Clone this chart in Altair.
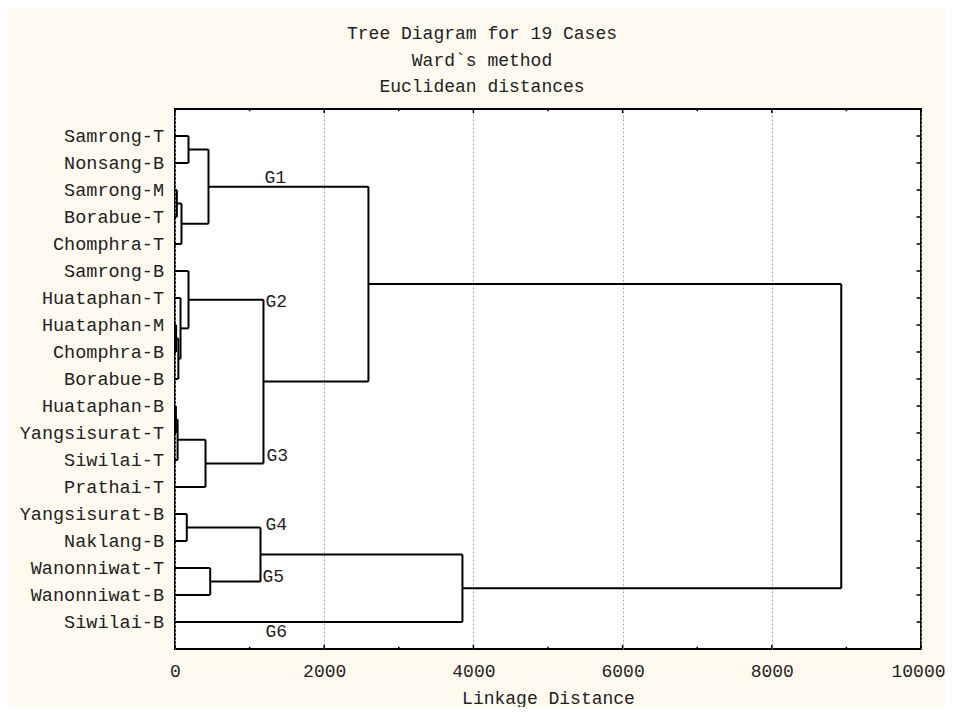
import altair as alt
import pandas as pd

# ---------------- data ----------------
leaves = ["Samrong-T", "Nonsang-B", "Samrong-M", "Borabue-T", "Chomphra-T",
          "Samrong-B", "Huataphan-T", "Huataphan-M", "Chomphra-B", "Borabue-B",
          "Huataphan-B", "Yangsisurat-T", "Siwilai-T", "Prathai-T",
          "Yangsisurat-B", "Naklang-B", "Wanonniwat-T", "Wanonniwat-B", "Siwilai-B"]

# agglomeration steps (children may be leaves or earlier merges)
merge_ids = ["a", "b", "c", "d", "e", "f", "g", "h", "i", "j", "k", "l", "m",
             "n", "o", "p", "q", "r"]
merge_left = ["Samrong-T", "Samrong-M", "b", "a", "Huataphan-M", "e", "Huataphan-T",
              "Samrong-B", "Huataphan-B", "i", "j", "h", "d",
              "Yangsisurat-B", "Wanonniwat-T", "n", "p", "m"]
merge_right = ["Nonsang-B", "Borabue-T", "Chomphra-T", "c", "Chomphra-B", "Borabue-B", "f",
               "g", "Yangsisurat-T", "Siwilai-T", "Prathai-T", "k", "l",
               "Naklang-B", "Wanonniwat-B", "o", "Siwilai-B", "q"]
merge_height = [181, 25, 87, 449, 15, 45, 74,
                181, 12, 35, 409, 1186, 2593,
                158, 472, 1146, 3853, 8931]

group_labels = ["G1", "G2", "G3", "G4", "G5", "G6"]
group_dist = [1199, 1213, 1226, 1213, 1173, 1213]
group_pos = [2.55, 7.14, 12.86, 15.4, 17.34, 19.37]

title_lines = ["Tree Diagram for 19 Cases", "Ward`s method", "Euclidean distances"]
x_ticks = [0, 2000, 4000, 6000, 8000, 10000]
x_minor = list(range(0, 10001, 1000))

FONT = "Liberation Mono"
TXT = "#222222"

# ---------------- build dendrogram segments ----------------
node = {name: (i + 1, 0.0) for i, name in enumerate(leaves)}
segs = []
for mid, l, r, h in zip(merge_ids, merge_left, merge_right, merge_height):
    yl, hl = node[l]
    yr, hr = node[r]
    segs.append(dict(x=h, x2=h, y=yl, y2=yr))
    segs.append(dict(x=hl, x2=h, y=yl, y2=yl))
    segs.append(dict(x=hr, x2=h, y=yr, y2=yr))
    node[mid] = ((yl + yr) / 2, h)
seg_df = pd.DataFrame(segs)

# inward tick marks (bottom, top, right)
tick_rows = []
for v in x_minor:
    ln = 0.15 if v % 2000 == 0 else 0.08
    tick_rows.append(dict(x=v, x2=v, y=20, y2=20 - ln))
    tick_rows.append(dict(x=v, x2=v, y=0, y2=ln))
for i in range(1, len(leaves) + 1):
    tick_rows.append(dict(x=10000, x2=10000 - 60, y=i, y2=i))
tick_df = pd.DataFrame(tick_rows)

lab_df = pd.DataFrame(dict(label=group_labels, x=group_dist, y=group_pos))
leaf_df = pd.DataFrame(dict(name=leaves, pos=list(range(1, len(leaves) + 1)),
                            x=[0] * len(leaves)))

xscale = alt.Scale(domain=[0, 10000], nice=False, zero=False)
yscale = alt.Scale(domain=[0, 20], nice=False, zero=False, reverse=True)

xaxis = alt.Axis(values=x_ticks, format="d", title="Linkage Distance", grid=True,
                 gridDash=[2, 2], gridColor="#a8a8a8", gridWidth=1,
                 tickSize=0, domain=False, labelFlush=False,
                 labelOffset={"condition": {"test": "datum.value == 10000", "value": -3},
                              "value": 0},
                 labelFont=FONT, labelFontSize=18, labelColor=TXT, labelPadding=13,
                 titleFont=FONT, titleFontSize=18, titleFontWeight="normal",
                 titleColor=TXT, titlePadding=9)
yaxis = alt.Axis(labels=False, ticks=False, grid=False, domain=False, title=None)

tree = alt.Chart(seg_df).mark_rule(color="black", strokeWidth=2).encode(
    x=alt.X("x:Q", scale=xscale, axis=xaxis),
    x2="x2:Q",
    y=alt.Y("y:Q", scale=yscale, axis=yaxis),
    y2="y2:Q",
)

ticks = alt.Chart(tick_df).mark_rule(color="black", strokeWidth=1.5).encode(
    x="x:Q", x2="x2:Q", y="y:Q", y2="y2:Q"
)

leaf_text = alt.Chart(leaf_df).mark_text(
    align="right", baseline="middle", dx=-11, font=FONT, fontSize=18.5, color=TXT
).encode(x="x:Q", y="pos:Q", text="name:N")

glabels = alt.Chart(lab_df).mark_text(
    align="left", baseline="middle", font=FONT, fontSize=18, color=TXT
).encode(x="x:Q", y="y:Q", text="label:N")

chart = alt.layer(tree, ticks, leaf_text, glabels).properties(
    width=746,
    height=540,
    title=alt.TitleParams(title_lines, font=FONT, fontSize=18, fontWeight="normal",
                          color=TXT, anchor="middle", dx=-66, lineHeight=26.5,
                          offset=12),
    padding={"left": 167, "top": 101, "right": 24, "bottom": 58},
    autosize=alt.AutoSizeParams(type="none"),
    background="#FFFAF0",
).configure_view(stroke="black", strokeWidth=2, fill="white")

chart.save("out.html", embed_options={"renderer": "svg", "actions": False})
